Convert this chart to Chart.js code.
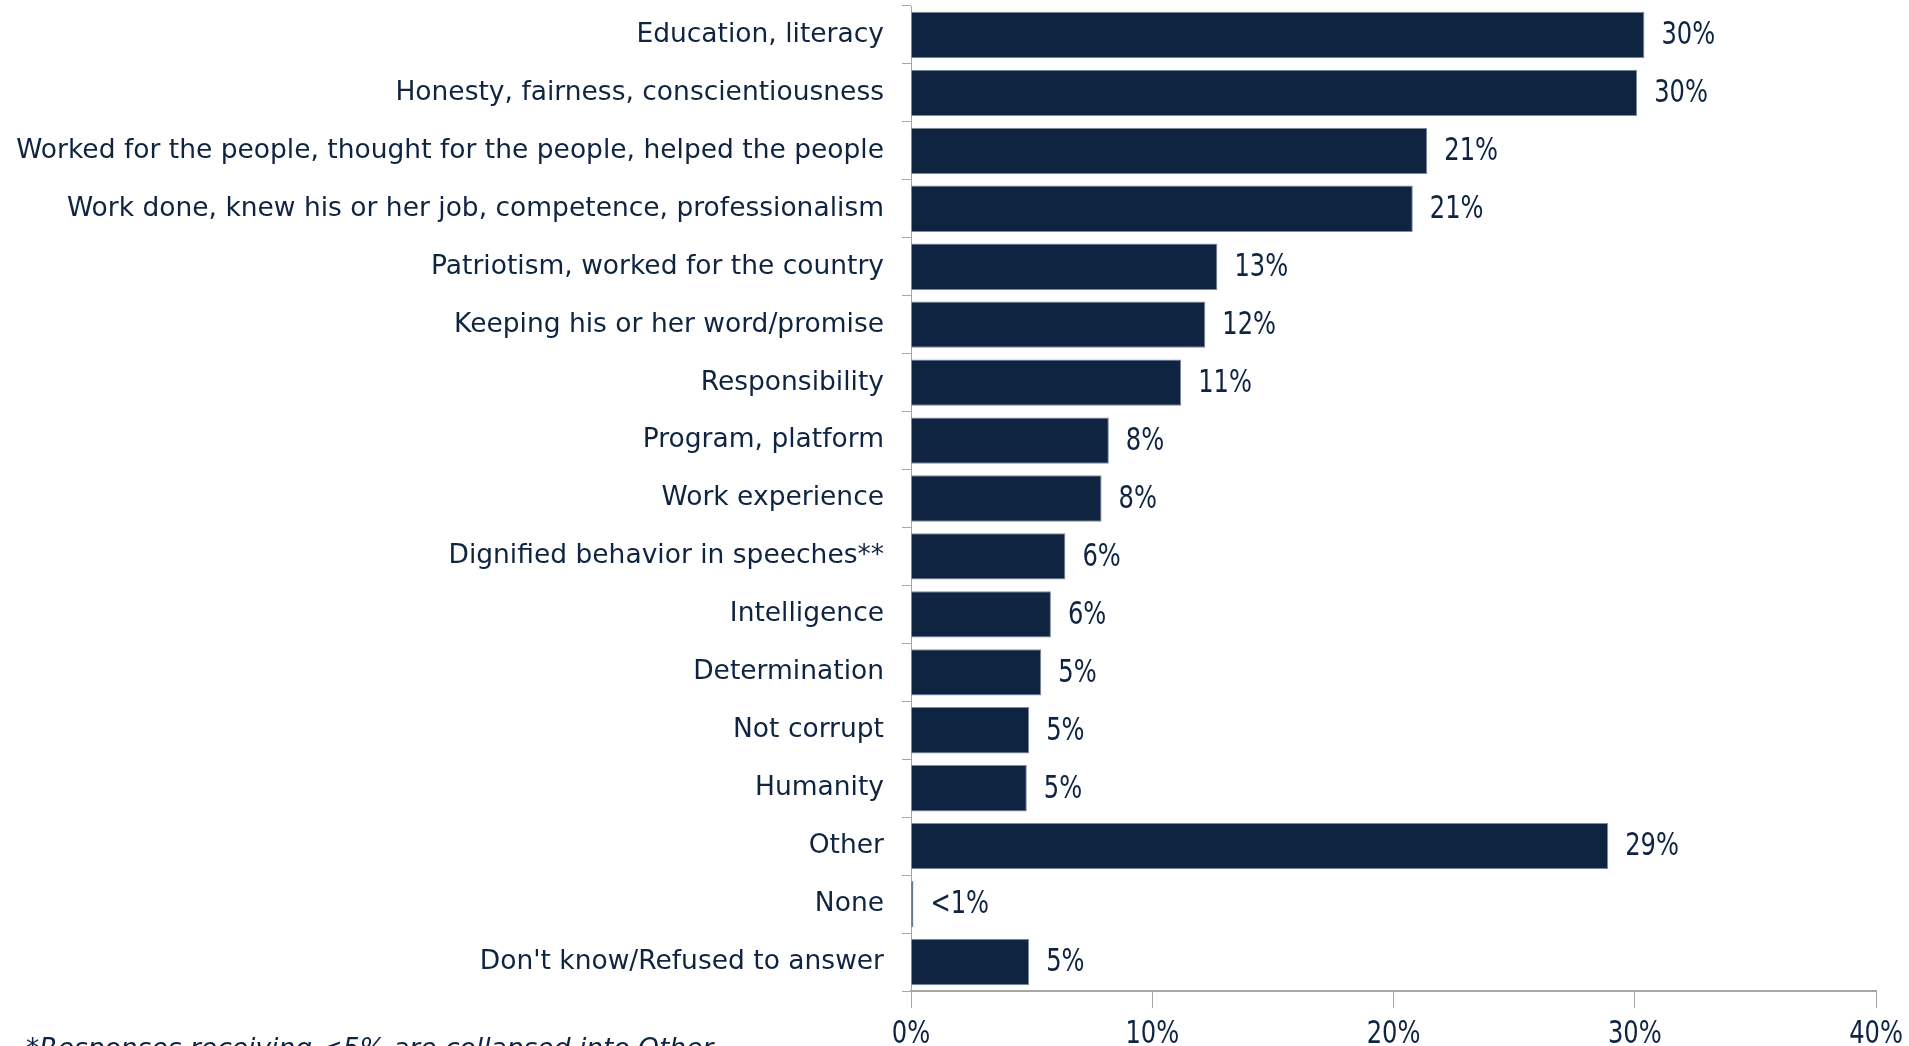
<!DOCTYPE html>
<html>
<head>
<meta charset="utf-8">
<script src="https://cdn.jsdelivr.net/npm/chart.js@4.4.1/dist/chart.umd.min.js"></script>
<style>
  html, body { margin: 0; padding: 0; background: #fff; overflow: hidden; }
  #wrap { position: relative; width: 1909px; height: 1046px; }
  #note {
    position: absolute; left: 26px; top: 1032px;
    font: italic 26.5px "DejaVu Sans", sans-serif; color: #0f2441;
    white-space: nowrap;
  }
</style>
</head>
<body>
<div id="wrap">
  <canvas id="qualitiesChart" width="1909" height="1046"></canvas>
  <div id="note">*Responses receiving &lt;5% are collapsed into Other.</div>
</div>
<script>
// Datos del gráfico
const categories = [
    'Education, literacy',
    'Honesty, fairness, conscientiousness',
    'Worked for the people, thought for the people, helped the people',
    'Work done, knew his or her job, competence, professionalism',
    'Patriotism, worked for the country',
    'Keeping his or her word/promise',
    'Responsibility',
    'Program, platform',
    'Work experience',
    'Dignified behavior in speeches**',
    'Intelligence',
    'Determination',
    'Not corrupt',
    'Humanity',
    'Other',
    'None',
    "Don't know/Refused to answer"
];
const shares = [30.4, 30.1, 21.4, 20.8, 12.7, 12.2, 11.2, 8.2, 7.9, 6.4, 5.8, 5.4, 4.9, 4.8, 28.9, 0.1, 4.9];
const shareLabels = ['30%', '30%', '21%', '21%', '13%', '12%', '11%', '8%', '8%', '6%', '6%', '5%', '5%', '5%', '29%', '<1%', '5%'];
const xTicks = [0, 10, 20, 30, 40];

const navy = '#0f2441';
const axisGray = '#a6a6a6';
const fontFamily = '"DejaVu Sans", sans-serif';
const narrowFont = '32px "DejaVu Sans Condensed", "DejaVu Sans", sans-serif';
const squeeze = 0.84;

// Texto estrecho (como en el original)
function narrowText(ctx, text, x, y, align) {
    ctx.save();
    ctx.font = narrowFont;
    ctx.fillStyle = navy;
    ctx.textBaseline = 'middle';
    ctx.textAlign = align;
    ctx.translate(x, y);
    ctx.scale(squeeze, 1);
    ctx.fillText(text, 0, 0);
    ctx.restore();
}

// Etiquetas de barras y del eje X
const narrowLabels = {
    id: 'narrowLabels',
    afterDatasetsDraw(chart) {
        const { ctx } = chart;
        chart.getDatasetMeta(0).data.forEach((bar, i) => {
            narrowText(ctx, shareLabels[i], bar.x + 17, bar.y + 1, 'left');
        });
        const xScale = chart.scales.x;
        xTicks.forEach(v => {
            narrowText(ctx, v + '%', xScale.getPixelForValue(v), xScale.top + 44, 'center');
        });
    }
};

new Chart(document.getElementById('qualitiesChart'), {
    type: 'bar',
    data: {
        labels: categories,
        datasets: [{
            data: shares,
            backgroundColor: navy,
            borderColor: '#7f8a9c',
            borderWidth: 1,
            barPercentage: 0.8,
            categoryPercentage: 1
        }]
    },
    options: {
        indexAxis: 'y',
        responsive: false,
        animation: false,
        layout: { padding: { left: 8, right: 33, top: 6, bottom: 0 } },
        plugins: {
            legend: { display: false },
            tooltip: { enabled: false }
        },
        scales: {
            x: {
                min: 0,
                max: 40,
                afterBuildTicks(scale) { scale.ticks = xTicks.map(v => ({ value: v })); },
                border: { color: axisGray, width: 2 },
                grid: { drawOnChartArea: false, color: axisGray, tickLength: 17, lineWidth: 1 },
                ticks: { display: false },
                afterFit(scale) {
                    scale.height = 55;
                    scale.paddingLeft = 0;
                    scale.paddingRight = 0;
                }
            },
            y: {
                border: { color: axisGray, width: 1 },
                grid: { offset: true, drawOnChartArea: false, color: axisGray, tickLength: 9 },
                ticks: {
                    color: navy,
                    font: { size: 26.5, family: fontFamily },
                    padding: 18,
                    autoSkip: false
                },
                afterFit(scale) {
                    scale.width = 903;
                    scale.paddingTop = 0;
                    scale.paddingBottom = 0;
                }
            }
        }
    },
    plugins: [narrowLabels]
});
</script>
</body>
</html>
